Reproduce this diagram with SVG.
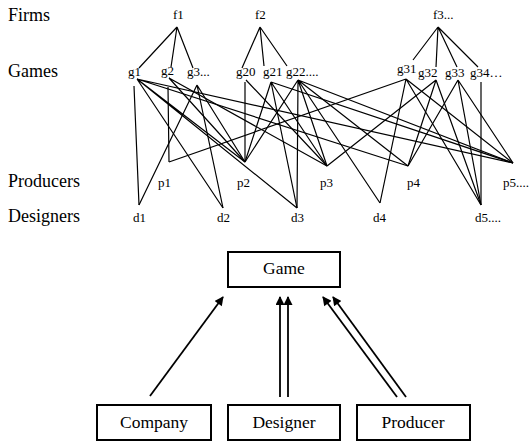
<svg xmlns="http://www.w3.org/2000/svg" width="531" height="443" viewBox="0 0 531 443">
<defs>
<style>
.row{font-family:"Liberation Serif","Times New Roman",serif;font-size:18px;fill:#000}
.n{font-family:"Liberation Serif","Times New Roman",serif;font-size:13px;fill:#000}
.big{font-family:"Liberation Serif","Times New Roman",serif;font-size:17.5px;fill:#000;text-anchor:middle}
.e{stroke:#000;stroke-width:1.2;fill:none}
.box{fill:#fff;stroke:#000;stroke-width:2}
.a{stroke:#000;stroke-width:1.8;fill:none;marker-end:url(#ah)}
</style>
<marker id="ah" viewBox="0 0 10 10" refX="9" refY="5" markerWidth="5.5" markerHeight="5" markerUnits="strokeWidth" orient="auto">
<path d="M0,0 L10,5 L0,10 z" fill="#000"/>
</marker>
</defs>
<rect width="531" height="443" fill="#fff"/>
<g id="row-labels">
<text class="row" x="8" y="21">Firms</text>
<text class="row" x="8" y="77">Games</text>
<text class="row" x="8" y="187">Producers</text>
<text class="row" x="8" y="222">Designers</text>
</g>
<g id="connectors">
<!-- firms to games -->
<path class="e" d="M177,27 L139,68 M177,27 L171,67 M177,27 L193,68"/>
<path class="e" d="M260,27 L242,68 M260,27 L264,66 M260,27 L287,66"/>
<path class="e" d="M438,27 L413,60 M438,27 L436,67 M438,27 L457,67 M438,27 L478,67"/>
<!-- g1 -->
<path class="e" d="M134,86 L139,205 M137,79 L223,208 M137,79 L245,162 M137,79 L408,166 M137,79 L513,163 M137,79 L297,208"/>
<!-- g2 -->
<path class="e" d="M168,87 L169,162 M169,78 L245,162 M169,78 L327,166"/>
<!-- g3 -->
<path class="e" d="M197,85 L139,205 M197,85 L223,208 M197,85 L245,162"/>
<!-- g20 -->
<path class="e" d="M245,82 L245,162 M246,80 L327,166"/>
<!-- g21 -->
<path class="e" d="M271,82 L245,162 M271,82 L327,166 M271,82 L297,208 M271,82 L513,163"/>
<!-- g22 -->
<path class="e" d="M298,80 L297,208 M298,80 L245,162 M298,80 L327,166 M298,80 L408,166 M298,80 L513,163 M298,80 L380,203"/>
<!-- g31 -->
<path class="e" d="M406,79 L169,162 M406,79 L380,203 M406,79 L513,163 M406,79 L481,205"/>
<!-- g32 -->
<path class="e" d="M436,80 L327,166 M436,80 L408,166 M436,80 L481,205"/>
<!-- g33 -->
<path class="e" d="M458,80 L408,166 M458,80 L513,163 M458,80 L481,205"/>
<!-- g34 -->
<path class="e" d="M481,82 L481,205"/>
<!-- lower model -->
<path class="a" d="M150,396 L223,297"/>
<path class="a" d="M280,397 L280,297"/>
<path class="a" d="M288,397 L288,297"/>
<path class="a" d="M397,397 L323,297"/>
<path class="a" d="M406,397 L333,297"/>
</g>
<g id="f1"><text class="n" x="173" y="19">f1</text></g>
<g id="f2"><text class="n" x="255" y="19">f2</text></g>
<g id="f3"><text class="n" x="433" y="19">f3...</text></g>
<g id="g1"><text class="n" x="128" y="76">g1</text></g>
<g id="g2"><text class="n" x="161" y="75">g2</text></g>
<g id="g3"><text class="n" x="187" y="76">g3...</text></g>
<g id="g20"><text class="n" x="236" y="76">g20</text></g>
<g id="g21"><text class="n" x="263" y="76">g21</text></g>
<g id="g22"><text class="n" x="286" y="76">g22....</text></g>
<g id="g31"><text class="n" x="397" y="73">g31</text></g>
<g id="g32"><text class="n" x="418" y="77">g32</text></g>
<g id="g33"><text class="n" x="445" y="77">g33</text></g>
<g id="g34"><text class="n" x="470" y="77">g34…</text></g>
<g id="p1"><text class="n" x="158" y="187">p1</text></g>
<g id="p2"><text class="n" x="237" y="187">p2</text></g>
<g id="p3"><text class="n" x="320" y="187">p3</text></g>
<g id="p4"><text class="n" x="407" y="187">p4</text></g>
<g id="p5"><text class="n" x="503" y="187">p5....</text></g>
<g id="d1"><text class="n" x="133" y="222">d1</text></g>
<g id="d2"><text class="n" x="217" y="222">d2</text></g>
<g id="d3"><text class="n" x="291" y="222">d3</text></g>
<g id="d4"><text class="n" x="373" y="222">d4</text></g>
<g id="d5"><text class="n" x="475" y="222">d5....</text></g>
<g id="Game"><rect class="box" x="228" y="252" width="112" height="35"/><text class="big" x="284" y="274">Game</text></g>
<g id="Company"><rect class="box" x="97" y="405" width="114" height="35"/><text class="big" x="154" y="428">Company</text></g>
<g id="Designer"><rect class="box" x="228" y="405" width="112" height="35"/><text class="big" x="284" y="428">Designer</text></g>
<g id="Producer"><rect class="box" x="357" y="405" width="113" height="35"/><text class="big" x="413" y="428">Producer</text></g>
</svg>
